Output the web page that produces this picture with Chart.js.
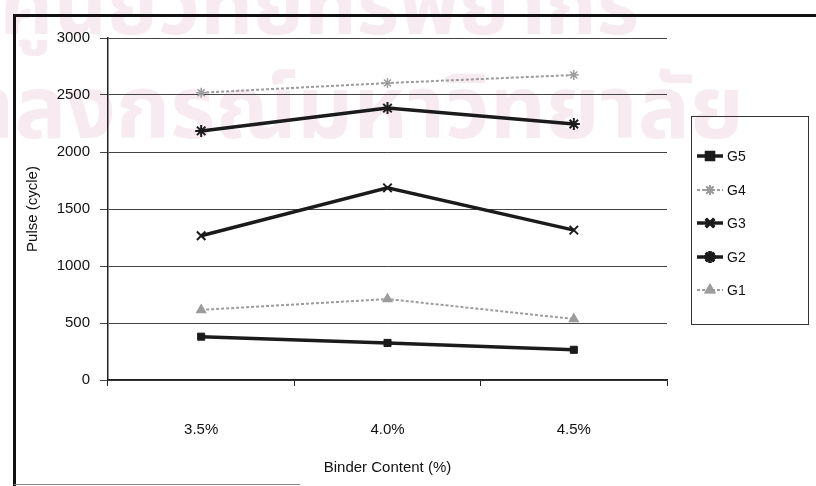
<!DOCTYPE html>
<html>
<head>
<meta charset="utf-8">
<script src="https://cdn.jsdelivr.net/npm/chart.js@4.4.1/dist/chart.umd.min.js"></script>
<style>
html,body{margin:0;padding:0;background:#fff;}
#wrap{width:816px;height:486px;position:relative;}
</style>
</head>
<body>
<div id="wrap"><canvas id="c" width="816" height="486"></canvas></div>
<script>
const categories = ['3.5%', '4.0%', '4.5%'];
const seriesNames = ['G5', 'G4', 'G3', 'G2', 'G1'];
const g5 = [380, 325, 265];
const g4 = [2520, 2605, 2675];
const g3 = [1265, 1685, 1315];
const g2 = [2185, 2385, 2245];
const g1 = [615, 710, 535];
const yTicks = [0, 500, 1000, 1500, 2000, 2500, 3000];
const xTitle = 'Binder Content (%)';
const yTitle = 'Pulse (cycle)';
const watermark = ['ศูนย์วิทยทรัพยากร', 'จุฬาลงกรณ์มหาวิทยาลัย'];

const FONT = '"Liberation Sans", Arial, sans-serif';
const BLACK = '#1b1b1b';
const GREY = '#9c9c9c';

function ds(label, data, style) {
  return Object.assign({
    label, data, fill: false, tension: 0,
    pointHoverRadius: 5
  }, style);
}

const datasets = [
  ds(seriesNames[0], g5, {borderColor: BLACK, backgroundColor: BLACK, borderWidth: 3.5, pointStyle: 'rect', pointRadius: 5, pointBorderWidth: 1}),
  ds(seriesNames[1], g4, {borderColor: GREY, backgroundColor: GREY, borderWidth: 2, borderDash: [3, 2], pointStyle: 'star', pointRadius: 5, pointBorderWidth: 1.5}),
  ds(seriesNames[2], g3, {borderColor: BLACK, backgroundColor: BLACK, borderWidth: 3.5, pointStyle: 'crossRot', pointRadius: 6, pointBorderWidth: 2}),
  ds(seriesNames[3], g2, {borderColor: BLACK, backgroundColor: BLACK, borderWidth: 3.5, pointStyle: 'star', pointRadius: 6, pointBorderWidth: 2}),
  ds(seriesNames[4], g1, {borderColor: GREY, backgroundColor: GREY, borderWidth: 2, borderDash: [3, 2], pointStyle: 'triangle', pointRadius: 5, pointBorderWidth: 1.5})
];

const decor = {
  id: 'decor',
  beforeDraw(chart) {
    const ctx = chart.ctx;
    ctx.save();
    ctx.fillStyle = '#ffffff';
    ctx.fillRect(0, 0, chart.width, chart.height);
    // faint watermark of the scanned page
    ctx.fillStyle = '#f7eaf1';
    ctx.textBaseline = 'alphabetic';
    ctx.textAlign = 'left';
    ctx.font = 'bold 82px "Noto Sans Thai", "Noto Sans", "DejaVu Sans", sans-serif';
    ctx.fillText(watermark[0], 0, 34);
    ctx.font = 'bold 87px "Noto Sans Thai", "Noto Sans", "DejaVu Sans", sans-serif';
    ctx.fillText(watermark[1], -134, 138);
    ctx.restore();
  },
  afterDraw(chart) {
    const ctx = chart.ctx;
    ctx.save();
    // outer frame
    ctx.strokeStyle = '#111';
    ctx.lineWidth = 3;
    ctx.beginPath();
    ctx.moveTo(14.5, 486);
    ctx.lineTo(14.5, 15.5);
    ctx.lineTo(830, 15.5);
    ctx.stroke();
    ctx.strokeStyle = '#888';
    ctx.lineWidth = 1;
    ctx.beginPath();
    ctx.moveTo(14, 484.5);
    ctx.lineTo(300, 484.5);
    ctx.stroke();
    // legend box
    const bx = 691, by = 116, bw = 117, bh = 208;
    ctx.strokeStyle = '#333';
    ctx.lineWidth = 1;
    ctx.strokeRect(bx + 0.5, by + 0.5, bw, bh);
    const rows = [156, 190, 223, 257, 290];
    chart.data.datasets.forEach((d, i) => {
      const y = rows[i];
      ctx.save();
      ctx.strokeStyle = d.borderColor;
      ctx.lineWidth = d.borderWidth;
      ctx.setLineDash(d.borderDash || []);
      ctx.beginPath();
      ctx.moveTo(697, y);
      ctx.lineTo(723, y);
      ctx.stroke();
      ctx.setLineDash([]);
      Chart.helpers.drawPoint(ctx, {
        pointStyle: d.pointStyle, radius: d.pointRadius, rotation: 0,
        borderWidth: d.pointBorderWidth
      }, 710, y);
      ctx.fillStyle = d.backgroundColor;
      ctx.strokeStyle = d.borderColor;
      ctx.lineWidth = d.pointBorderWidth;
      ctx.fill();
      ctx.stroke();
      ctx.restore();
      ctx.fillStyle = '#111';
      ctx.font = '14px ' + FONT;
      ctx.textAlign = 'left';
      ctx.textBaseline = 'middle';
      ctx.fillText(d.label, 727, y + 1);
    });
    ctx.restore();
  }
};

new Chart(document.getElementById('c'), {
  type: 'line',
  data: {labels: categories, datasets},
  plugins: [decor],
  options: {
    responsive: false,
    animation: false,
    events: [],
    layout: {padding: {left: 0, right: 149, top: 38, bottom: 0}},
    plugins: {legend: {display: false}, tooltip: {enabled: false}},
    scales: {
      x: {
        type: 'category',
        offset: true,
        afterFit(s) { s.height = 106; },
        grid: {offset: true, drawOnChartArea: false, drawTicks: true, tickLength: 6, color: '#222', tickWidth: 1},
        border: {display: true, color: '#222', width: 1.5},
        ticks: {padding: 35, color: '#111', font: {family: FONT, size: 15}, maxRotation: 0},
        title: {display: true, text: xTitle, color: '#111', font: {family: FONT, size: 15}, padding: {top: 0, bottom: 9}}
      },
      y: {
        min: 0, max: 3000,
        afterFit(s) { s.width = 108; },
        afterBuildTicks(s) { s.ticks = yTicks.map(v => ({value: v})); },
        grid: {color: '#444', lineWidth: 1, drawTicks: true, tickLength: 8},
        border: {display: true, color: '#222', width: 1.5},
        ticks: {padding: 10, color: '#111', font: {family: FONT, size: 15}, callback: v => String(v)},
        title: {display: true, text: yTitle, color: '#111', font: {family: FONT, size: 15}, padding: {top: 24, bottom: 0}}
      }
    }
  }
});
</script>
</body>
</html>
